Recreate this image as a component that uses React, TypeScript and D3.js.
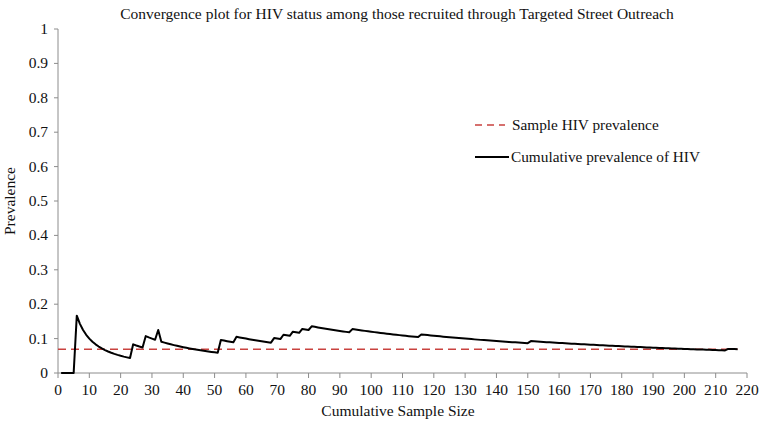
import React from "react";
import * as d3 from "d3";

// Sample size at which the cumulative positive count changes, and the new count
const changeAtN = [6, 24, 28, 32, 33, 52, 57, 69, 72, 75, 78, 81, 94, 116, 151, 214];
const positiveCount = [1, 2, 3, 4, 3, 5, 6, 7, 8, 9, 10, 11, 12, 13, 14, 15];
const totalSample = 217;
const samplePrevalence = 0.069;
const xTicks = d3.range(0, 221, 10);
const yTicks = [0, 0.1, 0.2, 0.3, 0.4, 0.5, 0.6, 0.7, 0.8, 0.9, 1];

const W = 760;
const H = 425;
const margin = { left: 58, right: 13, top: 29, bottom: 52 };

export default function App() {
  const x = d3.scaleLinear().domain([0, 220]).range([margin.left, W - margin.right]);
  const y = d3.scaleLinear().domain([0, 1]).range([H - margin.bottom, margin.top]);

  const pts: [number, number][] = [];
  for (let n = 1; n <= totalSample; n++) {
    let c = 0;
    for (let i = 0; i < changeAtN.length; i++) if (changeAtN[i] <= n) c = positiveCount[i];
    pts.push([n, c / n]);
  }
  const line = d3
    .line<[number, number]>()
    .x((d) => x(d[0]))
    .y((d) => y(d[1]));

  const font = "'Liberation Serif', 'Times New Roman', serif";
  const axisColor = "#8c8c8c";
  const y0 = y(0);

  return (
    <svg
      width={W}
      height={H}
      style={{ position: "absolute", left: 0, top: 0, background: "#fff" }}
      fontFamily={font}
    >
      <text x={397} y={19} fontSize={15.5} textAnchor="middle" fill="#111">
        Convergence plot for HIV status among those recruited through Targeted Street Outreach
      </text>

      {/* y axis */}
      <line x1={x(0)} x2={x(0)} y1={y(1)} y2={y0} stroke={axisColor} strokeWidth={1} />
      {yTicks.map((t) => (
        <g key={t}>
          <line x1={x(0) - 4} x2={x(0)} y1={y(t)} y2={y(t)} stroke={axisColor} />
          <text x={x(0) - 10} y={y(t) + 5} fontSize={15.5} textAnchor="end" fill="#111">
            {String(t)}
          </text>
        </g>
      ))}
      <text
        transform={`translate(15,${(y(0) + y(1)) / 2}) rotate(-90)`}
        fontSize={15.5}
        textAnchor="middle"
        fill="#111"
      >
        Prevalence
      </text>

      {/* x axis */}
      <line x1={x(0)} x2={x(220)} y1={y0} y2={y0} stroke={axisColor} strokeWidth={1} />
      {xTicks.map((t) => (
        <g key={t}>
          <line x1={x(t)} x2={x(t)} y1={y0} y2={y0 + 5} stroke={axisColor} />
          <text x={x(t)} y={y0 + 22} fontSize={15.5} textAnchor="middle" fill="#111">
            {t}
          </text>
        </g>
      ))}
      <text x={398} y={416} fontSize={15.5} textAnchor="middle" fill="#111">
        Cumulative Sample Size
      </text>

      {/* sample prevalence */}
      <line
        x1={x(0)}
        x2={x(totalSample)}
        y1={y(samplePrevalence)}
        y2={y(samplePrevalence)}
        stroke="#c9423f"
        strokeWidth={1.5}
        strokeDasharray="8,5"
      />
      {/* cumulative prevalence */}
      <path d={line(pts) || ""} fill="none" stroke="#000" strokeWidth={2} strokeLinejoin="round" />

      {/* legend */}
      <line x1={475} x2={505} y1={125} y2={125} stroke="#c9423f" strokeWidth={1.5} strokeDasharray="7,5" />
      <text x={512} y={130} fontSize={15.3} fill="#111">
        Sample HIV prevalence
      </text>
      <line x1={475} x2={509} y1={157} y2={157} stroke="#000" strokeWidth={2} />
      <text x={511} y={162} fontSize={15.3} fill="#111">
        Cumulative prevalence of HIV
      </text>
    </svg>
  );
}
